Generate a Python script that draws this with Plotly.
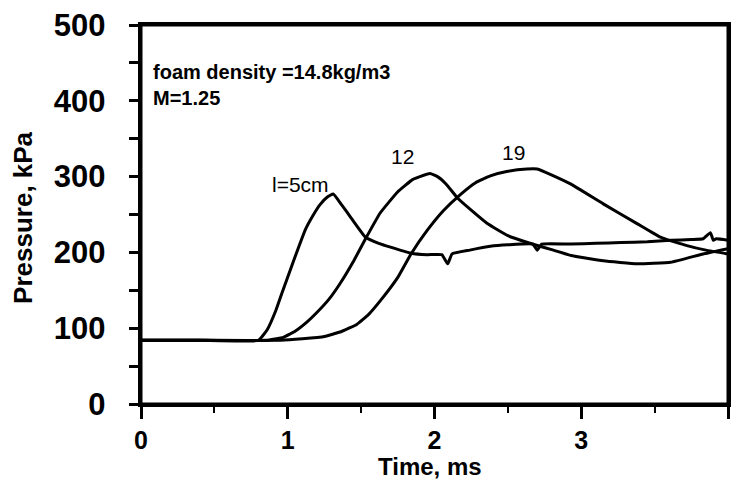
import plotly.graph_objects as go

# ---- data ----
t5 = [0.00, 0.40, 0.80, 0.86, 0.92, 0.96, 1.04, 1.12, 1.17, 1.22, 1.27, 1.31, 1.37, 1.43, 1.53,
      1.62, 1.70, 1.84, 1.95, 2.05, 2.09, 2.12, 2.24, 2.38, 2.50, 2.67, 2.70, 2.73,
      2.93, 3.10, 3.27, 3.45, 3.61, 3.75, 3.83, 3.88, 3.90, 3.92, 4.00]
p5 = [84, 84, 84, 98, 124, 146, 189, 230, 248, 263, 273, 277, 262, 246, 220,
      212, 207, 199, 197, 197, 185, 198, 203, 208, 210, 211, 203, 211,
      211, 212, 213, 214, 216, 217, 218, 226, 216, 218, 216]

t12 = [0.00, 0.45, 0.85, 0.97, 1.05, 1.13, 1.20, 1.28, 1.36, 1.45, 1.53, 1.63, 1.75,
       1.85, 1.90, 1.97, 2.02, 2.08, 2.16, 2.26, 2.36, 2.50, 2.65, 2.81, 2.93,
       3.15, 3.38, 3.61, 3.83, 4.00]
p12 = [84, 84, 84, 88, 96, 108, 121, 138, 160, 189, 218, 252, 280,
       296, 300, 304, 300, 290, 271, 254, 238, 222, 212, 203, 196,
       189, 185, 187, 198, 205]

t19 = [0.00, 0.50, 0.95, 1.10, 1.25, 1.37, 1.47, 1.55, 1.63, 1.75, 1.84, 1.95, 2.06,
       2.18, 2.28, 2.38, 2.50, 2.63, 2.70, 2.80, 2.93, 3.15, 3.38, 3.54, 3.72,
       3.85, 4.00]
p19 = [84, 84, 84, 86, 89, 96, 105, 118, 136, 167, 198, 229, 255,
       277, 292, 301, 307, 310, 310, 302, 290, 264, 238, 220, 209,
       203, 198]

curve_labels = ["l=5cm", "12", "19"]
label_t = [1.09, 1.78, 2.54]
label_p = [289, 327, 332]

info_lines = ["foam density =14.8kg/m3", "M=1.25"]
info_p = [438, 404]

y_tickvals = [0, 50, 100, 150, 200, 250, 300, 350, 400, 450, 500]
y_ticktext = ["0", "", "100", "", "200", "", "300", "", "400", "", "500"]

x_title = "Time, ms"
y_title = "Pressure, kPa"

FONT = "Liberation Sans, Arial, sans-serif"
NB = "\u00a0\u00a0"

fig = go.Figure()
for t, p in [(t5, p5), (t12, p12), (t19, p19)]:
    fig.add_trace(go.Scatter(x=t, y=p, mode="lines",
                             line=dict(color="black", width=3, shape="spline", smoothing=0.35),
                             showlegend=False, hoverinfo="skip"))

for txt, x, y in zip(curve_labels, label_t, label_p):
    fig.add_annotation(x=x, y=y, text=txt, showarrow=False,
                       font=dict(family=FONT, size=21, color="black"))
for txt, y in zip(info_lines, info_p):
    fig.add_annotation(x=0.07, y=y, text=txt, showarrow=False, xanchor="left",
                       font=dict(family=FONT, size=20, color="black", weight="bold"))

# axis titles
fig.add_annotation(xref="paper", yref="paper", x=0.492, y=-0.166, text=x_title,
                   showarrow=False, xanchor="center", yanchor="middle",
                   font=dict(family=FONT, size=24, color="black", weight="bold"))
fig.add_annotation(xref="paper", yref="paper", x=-0.201, y=0.491, text=y_title,
                   showarrow=False, textangle=-90, xanchor="center", yanchor="middle",
                   font=dict(family=FONT, size=26, color="black", weight="bold"))

# plot frame
fig.add_shape(type="rect", xref="paper", yref="paper", x0=0, x1=1, y0=0, y1=1,
              line=dict(color="black", width=3), layer="above")

fig.update_layout(
    template="none",
    width=732, height=486,
    margin=dict(l=141, r=4, t=25, b=82),
    paper_bgcolor="white", plot_bgcolor="white",
    showlegend=False,
    font=dict(family=FONT, color="black"),
    xaxis=dict(range=[0, 4], dtick=1, tick0=0, ticks="outside", ticklen=12, tickwidth=3,
               tickcolor="black", showline=True, linewidth=3, linecolor="black", mirror=True,
               showgrid=False, zeroline=False,
               minor=dict(dtick=0.5, ticks="outside", ticklen=6, tickwidth=2, tickcolor="black"),
               tickfont=dict(family=FONT, size=25, weight="bold", color="black")),
    yaxis=dict(range=[0, 500], tickmode="array", tickvals=y_tickvals,
               ticktext=[s + NB if s else s for s in y_ticktext],
               ticks="outside", ticklen=9, tickwidth=3, mirror=True,
               tickcolor="black", showline=True, linewidth=3, linecolor="black",
               showgrid=False, zeroline=False,
               tickfont=dict(family=FONT, size=31, weight="bold", color="black")),
)

fig.write_html("out.html")
